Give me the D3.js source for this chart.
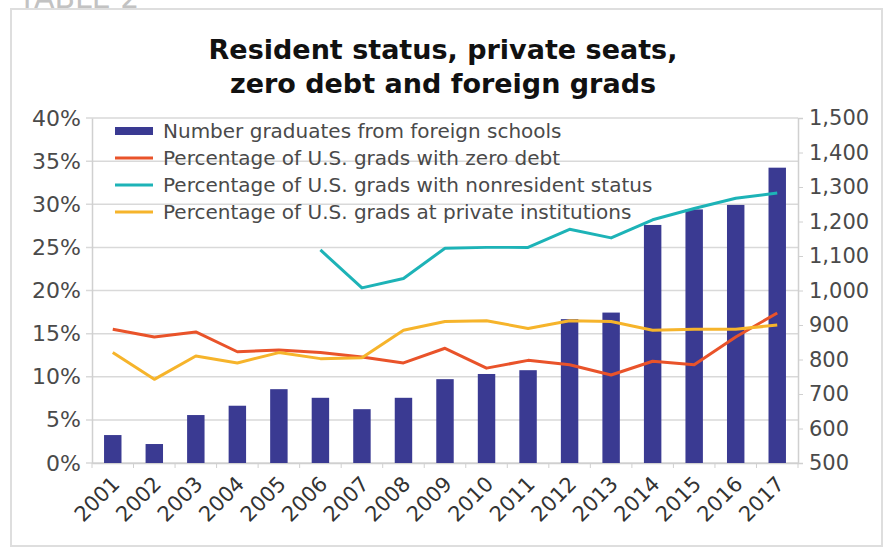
<!DOCTYPE html>
<html>
<head>
<meta charset="utf-8">
<script src="https://cdn.jsdelivr.net/npm/d3@7"></script>
<style>
  body { margin: 0; background: #ffffff; }
  text { font-family: "DejaVu Sans", "Open Sans", sans-serif; }
</style>
</head>
<body>
<div id="chart"></div>
<script>
const width = 886;
const height = 550;
const margin = { top: 118, right: 88, bottom: 87, left: 92 };

// data
const years = ["2001", "2002", "2003", "2004", "2005", "2006", "2007", "2008", "2009",
    "2010", "2011", "2012", "2013", "2014", "2015", "2016", "2017"];
const foreignGrads = [581, 555, 639, 666, 714, 689, 656, 689, 743, 758, 769, 917, 936, 1190, 1235, 1248, 1356];
const zeroDebt = [15.5, 14.6, 15.2, 12.9, 13.1, 12.8, 12.3, 11.6, 13.3, 11.0, 11.9, 11.4, 10.2, 11.8, 11.4, 14.6, 17.4];
const nonresident = [null, null, null, null, null, 24.7, 20.3, 21.4, 24.9, 25.0, 25.0, 27.1, 26.1, 28.2, 29.5, 30.7, 31.3];
const privateInst = [12.8, 9.7, 12.4, 11.6, 12.8, 12.1, 12.2, 15.4, 16.4, 16.5, 15.6, 16.5, 16.4, 15.4, 15.5, 15.5, 16.0];
const leftTicks = [0, 5, 10, 15, 20, 25, 30, 35, 40];
const rightTicks = [500, 600, 700, 800, 900, 1000, 1100, 1200, 1300, 1400, 1500];

const legendLabels = [
    "Number graduates from foreign schools",
    "Percentage of U.S. grads with zero debt",
    "Percentage of U.S. grads with nonresident status",
    "Percentage of U.S. grads at private institutions"
];
const barColor = "#3a3a92";
const lineColors = ["#e9532a", "#1db3b7", "#f6b42b"];

const svg = d3.select("#chart")
    .append("svg")
    .attr("width", width)
    .attr("height", height);

// faded header (cut by the top edge, as in the source) + panel frame
svg.append("text")
    .attr("x", 18)
    .attr("y", 8)
    .style("font-size", "30px")
    .style("fill", "#c2c2c2")
    .text("TABLE 2");
svg.append("rect")
    .attr("x", 11)
    .attr("y", 9)
    .attr("width", 871)
    .attr("height", 537)
    .attr("fill", "#ffffff")
    .attr("stroke", "#dedede")
    .attr("stroke-width", 2);

const title = svg.append("text")
    .attr("text-anchor", "middle")
    .style("font-size", "27px")
    .style("font-weight", "bold")
    .style("fill", "#111");
title.append("tspan").attr("x", 443).attr("y", 59).text("Resident status, private seats,");
title.append("tspan").attr("x", 443).attr("y", 93).text("zero debt and foreign grads");

const x = d3.scaleBand()
    .domain(years)
    .range([margin.left, width - margin.right])
    .paddingInner(0.58)
    .paddingOuter(0.29);
const yLeft = d3.scaleLinear()
    .domain([0, 40])
    .range([height - margin.bottom, margin.top]);
const yRight = d3.scaleLinear()
    .domain([500, 1500])
    .range([height - margin.bottom, margin.top]);

// gridlines
svg.append("g")
    .selectAll("line")
    .data(leftTicks)
    .join("line")
    .attr("x1", margin.left - 6)
    .attr("x2", width - margin.right)
    .attr("y1", d => yLeft(d))
    .attr("y2", d => yLeft(d))
    .attr("stroke", "#d9d9d9")
    .attr("stroke-width", 1.5);

// left axis
const leftAxis = svg.append("g")
    .attr("transform", `translate(${margin.left},0)`)
    .call(d3.axisLeft(yLeft).tickValues(leftTicks).tickSize(0).tickPadding(11).tickFormat(d => d + "%"));
leftAxis.select(".domain").attr("stroke", "#d0d0d0").attr("stroke-width", 1.5);
leftAxis.selectAll("text").style("font-size", "22px").style("fill", "#4a4a4a");

// right axis
const rightAxis = svg.append("g")
    .attr("transform", `translate(${width - margin.right},0)`)
    .call(d3.axisRight(yRight).tickValues(rightTicks).tickSize(5).tickPadding(6).tickFormat(d3.format(",")));
rightAxis.select(".domain").attr("stroke", "#d0d0d0").attr("stroke-width", 1.5);
rightAxis.selectAll(".tick line").attr("stroke", "#d0d0d0");
rightAxis.selectAll("text").style("font-size", "21px").style("fill", "#4a4a4a");

// x axis
const xAxis = svg.append("g")
    .attr("transform", `translate(0,${height - margin.bottom})`)
    .call(d3.axisBottom(x).tickSize(0));
xAxis.select(".domain").attr("stroke", "#d0d0d0").attr("stroke-width", 1.5);
xAxis.selectAll("text")
    .style("font-size", "21px")
    .style("fill", "#333")
    .attr("text-anchor", "end")
    .attr("x", 0)
    .attr("y", 0)
    .attr("dy", "0.35em")
    .attr("transform", "translate(3,17) rotate(-45)");
// small ticks between bands
svg.append("g")
    .selectAll("line")
    .data(years.concat(["end"]))
    .join("line")
    .attr("x1", (d, i) => margin.left + i * x.step())
    .attr("x2", (d, i) => margin.left + i * x.step())
    .attr("y1", height - margin.bottom)
    .attr("y2", height - margin.bottom + 5)
    .attr("stroke", "#d0d0d0");

// bars
svg.append("g")
    .selectAll("rect")
    .data(foreignGrads)
    .join("rect")
    .attr("x", (d, i) => x(years[i]))
    .attr("width", x.bandwidth())
    .attr("y", d => yRight(d))
    .attr("height", d => yRight(500) - yRight(d))
    .attr("fill", barColor);

// lines
const line = d3.line()
    .defined(d => d.v != null)
    .x(d => x(d.year) + x.bandwidth() / 2)
    .y(d => yLeft(d.v));
[zeroDebt, nonresident, privateInst].forEach((series, k) => {
    svg.append("path")
        .datum(series.map((v, i) => ({ year: years[i], v: v })))
        .attr("fill", "none")
        .attr("stroke", lineColors[k])
        .attr("stroke-width", 3)
        .attr("stroke-linejoin", "round")
        .attr("d", line);
});

// legend
const legend = svg.append("g")
    .attr("transform", "translate(115,131)");
const legendItems = legend.selectAll("g")
    .data(legendLabels)
    .join("g")
    .attr("transform", (d, i) => `translate(0,${i * 27})`);
legendItems.append("rect")
    .attr("x", 0)
    .attr("y", (d, i) => i === 0 ? -4 : -1.5)
    .attr("width", 38)
    .attr("height", (d, i) => i === 0 ? 8 : 3)
    .attr("fill", (d, i) => i === 0 ? barColor : lineColors[i - 1]);
legendItems.append("text")
    .attr("x", 48)
    .attr("y", 7)
    .style("font-size", "20px")
    .style("fill", "#4a4a4a")
    .text(d => d);
</script>
</body>
</html>
